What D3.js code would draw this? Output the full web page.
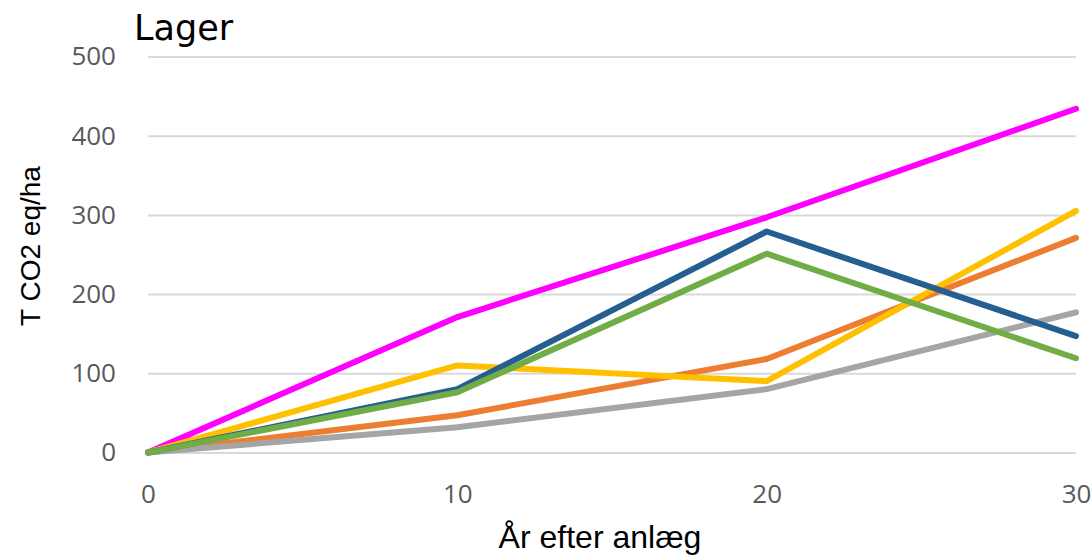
<!DOCTYPE html>
<html>
<head>
<meta charset="utf-8">
<script src="https://cdn.jsdelivr.net/npm/d3@7"></script>
<style>
  body { margin: 0; background: #fff; }
  svg { display: block; }
</style>
</head>
<body>
<svg id="chart" width="1092" height="555"></svg>
<script>
const years = [0, 10, 20, 30];
const xTicks = [0, 10, 20, 30];
const yTicks = [0, 100, 200, 300, 400, 500];
const seriesNames = ["S1", "S2", "S3", "S4", "S5", "S6"];
const seriesColors = ["#FF00FF", "#ED7D31", "#A5A5A5", "#FFC000", "#255E91", "#70AD47"];
const s1 = [0, 171, 297, 434];
const s2 = [0, 47, 118, 271];
const s3 = [0, 32, 80, 177];
const s4 = [0, 110, 90, 305];
const s5 = [0, 80, 279, 147];
const s6 = [0, 76, 251, 119];
const seriesValues = [s1, s2, s3, s4, s5, s6];

const svg = d3.select("#chart");
const x = d3.scaleLinear().domain([0, 30]).range([148, 1076]);
const y = d3.scaleLinear().domain([0, 500]).range([452.5, 56.5]);

// gridlines
svg.append("g")
  .attr("transform", "translate(148,0)")
  .call(d3.axisLeft(y).tickValues(yTicks).tickSize(-(1076 - 148)).tickFormat(""))
  .call(g => g.select(".domain").remove())
  .call(g => g.selectAll("line").attr("stroke", "#D9D9D9").attr("stroke-width", 2));

// y tick labels
svg.append("g")
  .attr("transform", "translate(148,0)")
  .call(d3.axisLeft(y).tickValues(yTicks).tickSize(0).tickPadding(32))
  .call(g => g.select(".domain").remove())
  .call(g => g.selectAll("text")
    .attr("fill", "#595959")
    .style("font-family", "'Open Sans', sans-serif")
    .style("font-size", "26px"));

// x tick labels
svg.append("g")
  .attr("transform", "translate(0,452.5)")
  .call(d3.axisBottom(x).tickValues(xTicks).tickSize(0).tickPadding(32))
  .call(g => g.select(".domain").remove())
  .call(g => g.selectAll("text")
    .attr("fill", "#595959")
    .style("font-family", "'Open Sans', sans-serif")
    .style("font-size", "26px"));

// lines
const line = d3.line().x((d, i) => x(years[i])).y(d => y(d));
seriesValues.forEach((vals, k) => {
  svg.append("path")
    .datum(vals)
    .attr("d", line)
    .attr("fill", "none")
    .attr("stroke", seriesColors[k])
    .attr("stroke-width", 6)
    .attr("stroke-linejoin", "round")
    .attr("stroke-linecap", "round");
});

// title
svg.append("text")
  .attr("x", 134).attr("y", 40)
  .style("font-family", "'DejaVu Sans', sans-serif")
  .style("font-size", "35px")
  .attr("fill", "#000")
  .text("Lager");

// axis titles
svg.append("text")
  .attr("x", 600).attr("y", 548)
  .attr("text-anchor", "middle")
  .style("font-family", "'Liberation Sans', Arial, sans-serif")
  .style("font-size", "32px")
  .attr("fill", "#000")
  .text("År efter anlæg");

svg.append("text")
  .attr("transform", "translate(40,246) rotate(-90)")
  .attr("text-anchor", "middle")
  .style("font-family", "'Liberation Sans', Arial, sans-serif")
  .style("font-size", "28px")
  .attr("fill", "#000")
  .text("T CO2 eq/ha");
</script>
</body>
</html>
